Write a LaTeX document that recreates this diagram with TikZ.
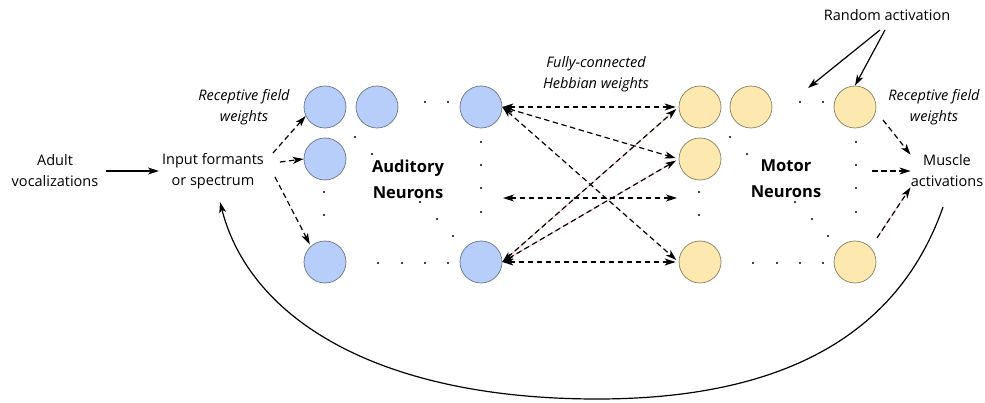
\documentclass[tikz,border=0pt]{standalone}
\usepackage{fontspec}
\setmainfont{Open Sans}
\usetikzlibrary{arrows.meta}

\definecolor{audfill}{RGB}{184,206,250}
\definecolor{audline}{RGB}{105,115,135}
\definecolor{motfill}{RGB}{253,232,175}
\definecolor{motline}{RGB}{135,125,95}
\definecolor{tint}{RGB}{240,150,140}

\begin{document}
\begin{tikzpicture}[x=1pt,y=-1pt,
  lbl/.style={font=\fontsize{14.5}{21}\selectfont, align=center, inner sep=0pt},
  ilbl/.style={lbl, font=\fontsize{14.5}{21}\selectfont\itshape},
  blbl/.style={lbl, font=\fontsize{16.5}{26}\selectfont\bfseries},
  neuron/.style={circle, minimum size=42pt, inner sep=0pt, line width=0.7pt},
  aud/.style={neuron, draw=audline, fill=audfill},
  mot/.style={neuron, draw=motline, fill=motfill},
  tip/.tip={Stealth[length=11pt,width=7pt,inset=3pt]},
  solidarrow/.style={line width=1.2pt, -tip},
  dasharrow/.style={line width=1.2pt, dash pattern=on 5.5pt off 3.5pt, -tip},
  hebb/.style={line width=1.2pt, dash pattern=on 5.5pt off 3.5pt, tip-tip},
  tintline/.style={draw=tint, line width=0.5pt},
  dot/.style={fill=black}
]
\useasboundingbox[fill=white] (0,0) rectangle (985,403);

% text labels
\node[lbl]  (ad)  at (55,171)  {Adult\\vocalizations};
\node[lbl]  (in)  at (213,171) {Input formants\\or spectrum};
\node[ilbl] (rfl) at (244,107) {Receptive field\\weights};
\node[ilbl] (fc)  at (596,74)  {Fully-connected\\Hebbian weights};
\node[lbl]  (ra)  at (887,15)  {Random activation};
\node[ilbl] (rfr) at (934,107) {Receptive field\\weights};
\node[lbl]  (mu)  at (947,171) {Muscle\\activations};
\node[blbl] (audl) at (408,179) {Auditory\\Neurons};
\node[blbl] (motl) at (786,179) {Motor\\Neurons};

% auditory neurons
\node[aud] (a1) at (325,107) {};
\node[aud] (a2) at (377,107) {};
\node[aud] (a3) at (481,107) {};
\node[aud] (a4) at (325,159) {};
\node[aud] (a5) at (325,262) {};
\node[aud] (a6) at (481,262) {};

% motor neurons
\node[mot] (m1) at (700,107) {};
\node[mot] (m2) at (751,107) {};
\node[mot] (m3) at (855,107) {};
\node[mot] (m4) at (700,159) {};
\node[mot] (m5) at (700,262) {};
\node[mot] (m6) at (855,262) {};

% ellipsis dots in both layers
\foreach \dx in {0,375} {
  \foreach \x/\y in {425/102, 448/102,
                     481/142, 481/165, 481/188, 481/212,
                     324/192, 324/215,
                     355/137, 372/154, 420/202, 437/219, 453/236,
                     378/263, 402/263, 425/263, 448/263}
    \fill[dot] (\x+\dx,\y) circle (1.2);
}

% free ends of connectors
\coordinate (i1) at (273,153);
\coordinate (i2) at (280,162);
\coordinate (i3) at (275,177);
\coordinate (hl) at (503,198);
\coordinate (hr) at (677,198);
\coordinate (r1) at (880,30);
\coordinate (r2) at (885,30);
\coordinate (rt) at (808,88);
\coordinate (o1) at (883,120);
\coordinate (o2) at (872,171);
\coordinate (o3) at (877,238);
\coordinate (fbs) at (943,207);
\coordinate (fbe) at (220,202);

% input stage
\draw[solidarrow, shorten <=8pt, shorten >=3pt] (ad.east) -- (in.west);
\draw[dasharrow] (i1) -- (a1.205);
\draw[dasharrow] (i2) -- (a4.west);
\draw[dasharrow, shorten >=2pt] (i3) -- (a5.132);

% faint tint under some of the Hebbian lines
\draw[tintline, shorten <=8pt, shorten >=10pt] (a6.east) -- (m1.west);
\draw[tintline, shorten <=8pt, shorten >=10pt] (a6.east) -- (m4.west);
\draw[tintline, shorten >=10pt] (o3) -- (mu.south west);

% fully-connected Hebbian weights
\draw[hebb, shorten >=3pt] (a3.east) -- (m1.west);
\draw[hebb, shorten >=3pt] (a3.east) -- (m4.west);
\draw[hebb, shorten >=3pt] (a3.east) -- (m5.west);
\draw[hebb, shorten >=3pt] (a6.east) -- (m1.west);
\draw[hebb, shorten >=3pt] (a6.east) -- (m4.west);
\draw[hebb, shorten >=3pt] (a6.east) -- (m5.west);
\draw[hebb] (hl) -- (hr);

% random activation
\draw[solidarrow] (r1) -- (rt);
\draw[solidarrow] (r2) -- (m3.north);

% output stage
\draw[dasharrow] (o1) -- (mu.north west);
\draw[dasharrow] (o2) -- (mu.west);
\draw[dasharrow] (o3) -- (mu.south west);

% feedback loop
\draw[solidarrow] (fbs) .. controls (900,330) and (790,399) .. (597,399)
                  .. controls (380,399) and (250,320) .. (fbe);
\end{tikzpicture}
\end{document}
